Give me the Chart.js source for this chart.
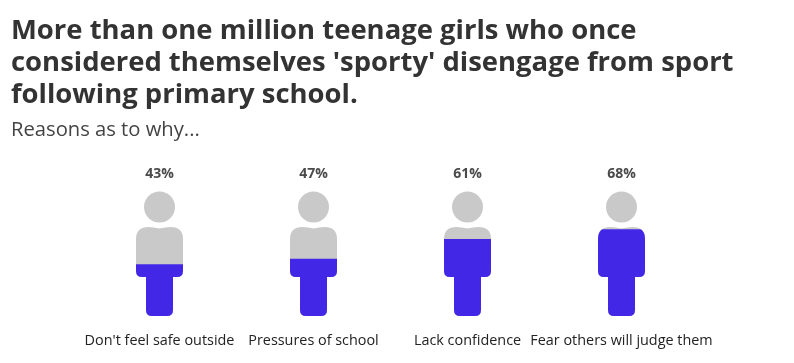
<!DOCTYPE html>
<html>
<head>
<meta charset="utf-8">
<style>
  html, body { margin: 0; padding: 0; background: #fff; }
  canvas { display: block; }
</style>
<script src="https://cdn.jsdelivr.net/npm/chart.js@4"></script>
</head>
<body>
<canvas id="girlsChart" width="794" height="363"></canvas>
<script>
const titleLines = [
  'More than one million teenage girls who once',
  "considered themselves 'sporty' disengage from sport",
  'following primary school.'
];
const subtitleText = 'Reasons as to why...';
const reasons = ["Don't feel safe outside", 'Pressures of school', 'Lack confidence', 'Fear others will judge them'];
const percentages = [43, 47, 61, 68];

const fillBlue = '#4327e6';
const figureGrey = '#c9c9c9';

// the silhouette, all offsets in px from the foot of each figure
function personBody(ctx, cx, foot) {
  const top = foot - 89, hip = foot - 39;
  ctx.moveTo(cx, top + 1.5);
  ctx.quadraticCurveTo(cx + 6, top, cx + 11, top);
  ctx.quadraticCurveTo(cx + 23.5, top, cx + 23.5, top + 12);
  ctx.lineTo(cx + 23.5, hip - 6);
  ctx.quadraticCurveTo(cx + 23.5, hip, cx + 17.5, hip);
  ctx.lineTo(cx + 13.5, hip);
  ctx.lineTo(cx + 13.5, foot - 6);
  ctx.quadraticCurveTo(cx + 13.5, foot, cx + 7.5, foot);
  ctx.lineTo(cx - 7.5, foot);
  ctx.quadraticCurveTo(cx - 13.5, foot, cx - 13.5, foot - 6);
  ctx.lineTo(cx - 13.5, hip);
  ctx.lineTo(cx - 17.5, hip);
  ctx.quadraticCurveTo(cx - 23.5, hip, cx - 23.5, hip - 6);
  ctx.lineTo(cx - 23.5, top + 12);
  ctx.quadraticCurveTo(cx - 23.5, top, cx - 11, top);
  ctx.quadraticCurveTo(cx - 6, top, cx, top + 1.5);
  ctx.closePath();
}

const peoplePlugin = {
  id: 'people',
  beforeDatasetsDraw(chart) {
    const ctx = chart.ctx;
    const foot = chart.chartArea.bottom;
    const xs = percentages.map((v, i) => chart.scales.x.getPixelForValue(i));

    ctx.save();
    ctx.fillStyle = figureGrey;
    ctx.beginPath();
    xs.forEach(cx => {
      ctx.moveTo(cx + 15.5, foot - 109);
      ctx.arc(cx, foot - 109, 15.5, 0, Math.PI * 2);
      personBody(ctx, cx, foot);
    });
    ctx.fill();
    // bars only show inside the bodies
    ctx.beginPath();
    xs.forEach(cx => personBody(ctx, cx, foot));
    ctx.clip();
  },
  afterDatasetsDraw(chart) {
    const ctx = chart.ctx;
    ctx.restore();

    ctx.save();
    ctx.fillStyle = '#4a4a4a';
    ctx.font = 'bold 14px "Open Sans"';
    ctx.textAlign = 'center';
    ctx.textBaseline = 'middle';
    percentages.forEach((v, i) => {
      ctx.fillText(v + '%', chart.scales.x.getPixelForValue(i), chart.chartArea.top - 10.5);
    });
    ctx.restore();
  }
};

const ctx = document.getElementById('girlsChart').getContext('2d');

new Chart(ctx, {
  type: 'bar',
  data: {
    labels: reasons,
    datasets: [{
      data: percentages,
      backgroundColor: fillBlue,
      borderWidth: 0,
      barPercentage: 0.32,
      categoryPercentage: 1
    }]
  },
  options: {
    responsive: false,
    animation: false,
    layout: { padding: { left: 11, right: 40, top: 15, bottom: 0 } },
    plugins: {
      legend: { display: false },
      tooltip: { enabled: false },
      title: {
        display: true,
        text: titleLines,
        align: 'start',
        color: '#333333',
        font: { family: '"Open Sans"', size: 27.45, weight: 'bold', lineHeight: 1.166 },
        padding: { top: 0, bottom: 7 }
      },
      subtitle: {
        display: true,
        text: subtitleText,
        align: 'start',
        color: '#444444',
        font: { family: '"Open Sans"', size: 20.2, weight: 'normal', lineHeight: 1.19 },
        padding: { top: 0, bottom: 42.4 }
      }
    },
    scales: {
      x: {
        grid: { display: false },
        border: { display: false },
        afterFit(scale) { scale.height = 47; },
        ticks: {
          color: '#222222',
          font: { family: '"Open Sans"', size: 14.4 },
          maxRotation: 0,
          autoSkip: false,
          padding: 8
        }
      },
      y: {
        min: 6,
        max: 100,
        grid: { display: false },
        border: { display: false },
        ticks: { display: false },
        afterFit(scale) { scale.width = 71.5; }
      },
      // empty axis, only keeps the plot narrower than the title
      rightGap: {
        position: 'right',
        grid: { display: false },
        border: { display: false },
        ticks: { display: false },
        afterFit(scale) { scale.width = 55.5; }
      }
    }
  },
  plugins: [peoplePlugin]
});
</script>
</body>
</html>
